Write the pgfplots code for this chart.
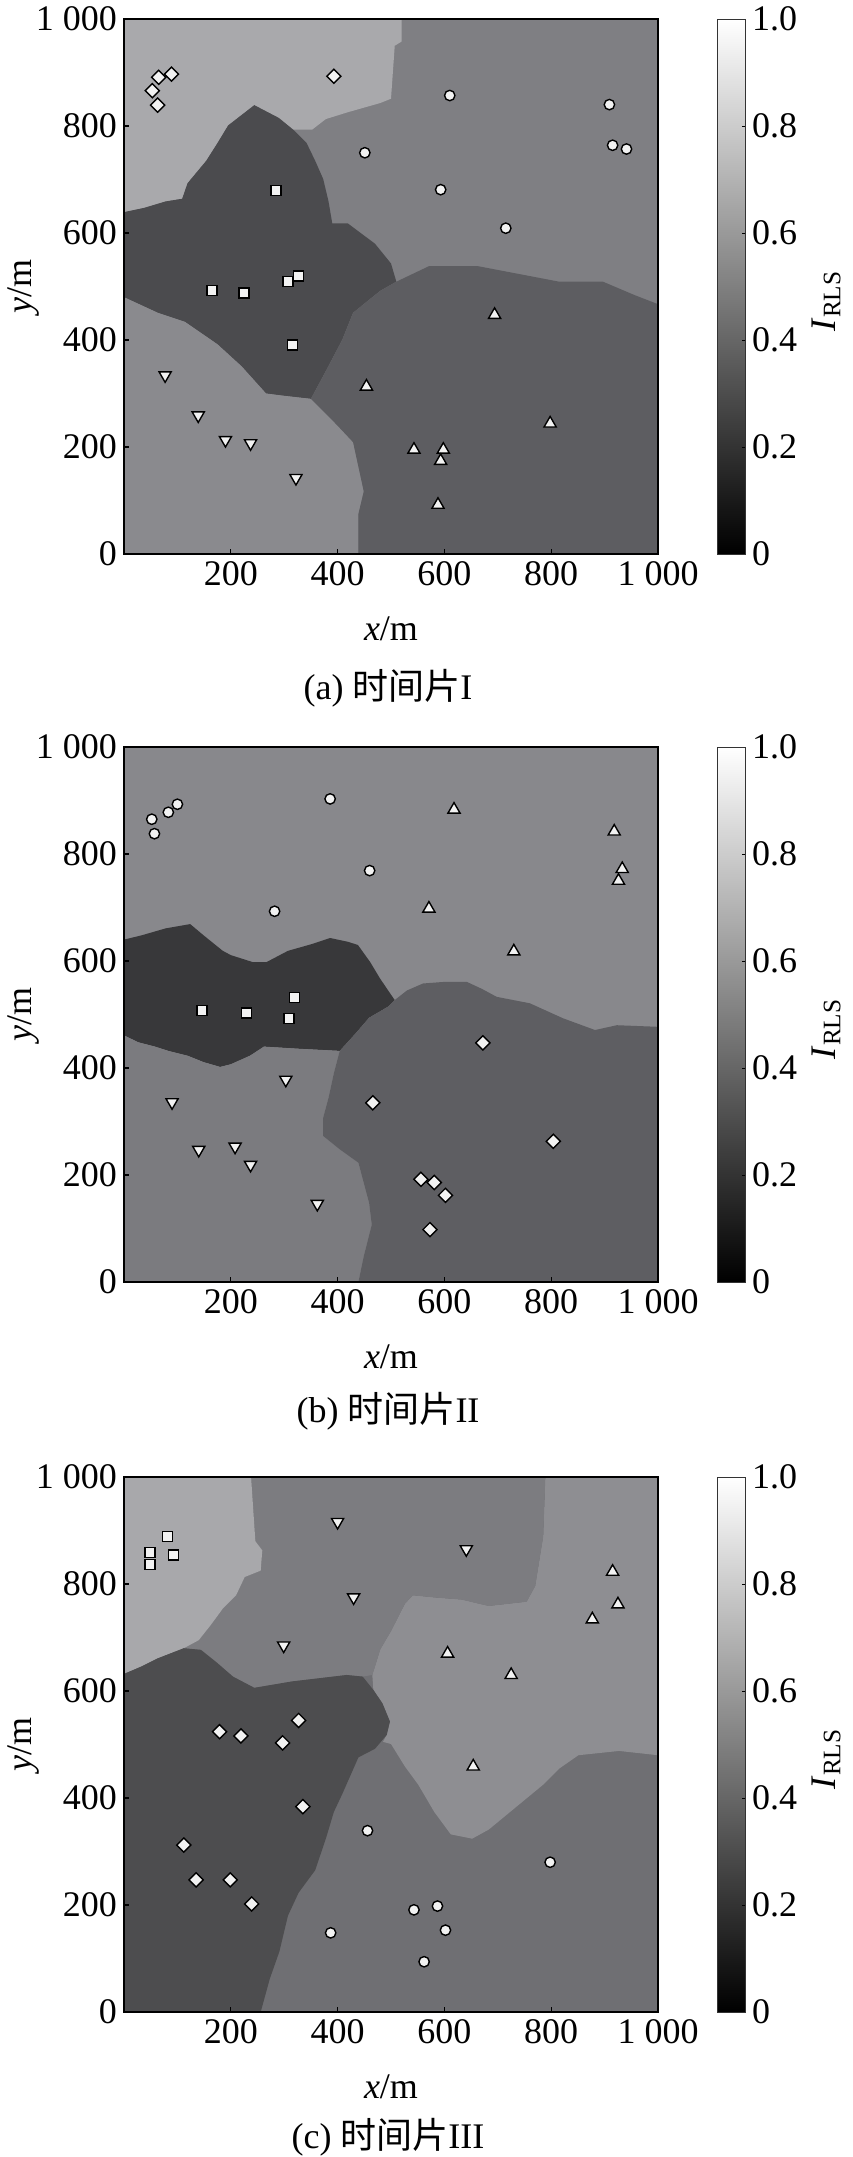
\documentclass[border=0pt]{standalone}
\usepackage{fontspec}
\setmainfont{Liberation Serif}
\newfontfamily\cjk{Noto Sans CJK SC}
\usepackage{pgfplots}
\pgfplotsset{compat=1.18}

\definecolor{aD}{HTML}{A9A9AC}
\definecolor{aC}{HTML}{7F7F83}
\definecolor{aS}{HTML}{4B4B4E}
\definecolor{aV}{HTML}{8A8A8E}
\definecolor{aT}{HTML}{5D5D61}
\definecolor{bTop}{HTML}{88888C}
\definecolor{bS}{HTML}{38383A}
\definecolor{bV}{HTML}{7B7B7F}
\definecolor{bR}{HTML}{5E5E62}
\definecolor{cS}{HTML}{A8A8AB}
\definecolor{cV}{HTML}{7C7C80}
\definecolor{cU}{HTML}{8E8E92}
\definecolor{cD}{HTML}{4D4D4F}
\definecolor{cC}{HTML}{6F6F73}
\definecolor{mfill}{HTML}{F2F2F2}

\pgfplotsset{
 panel/.style={
  scale only axis, width=267pt, height=267.5pt, anchor=south west,
  xmin=0,xmax=1000,ymin=0,ymax=1000,
  font=\fontsize{18}{21}\selectfont,
  /pgf/number format/assume math mode=true,
  xtick={200,400,600,800,1000}, xticklabels={200,400,600,800,1\hspace{0.25em}000},
  ytick={0,200,400,600,800,1000}, yticklabels={0,200,400,600,800,1\hspace{0.25em}000},
  tick align=inside, tick pos=left, major tick length=2.5pt,
  every tick/.style={black, line width=0.6pt},
  axis line style={black, line width=0.6pt},
  axis on top,
  xlabel={\textit{x}/m}, ylabel={\textit{y}/m},
  xlabel style={at={(axis description cs:0.5,-0.14)}, anchor=center},
  ylabel style={at={(axis description cs:-0.189,0.5)}, anchor=center},
  colorbar, colormap/blackwhite, point meta min=0, point meta max=1,
  colorbar style={
    at={(parent axis.north east)}, anchor=north west, xshift=21pt,
    width=14pt,
    font=\fontsize{18}{21}\selectfont,
    /pgf/number format/assume math mode=true,
    ytick={0,0.2,0.4,0.6,0.8,1}, yticklabels={0,0.2,0.4,0.6,0.8,1.0},
    yticklabel pos=right, ytick pos=right, tick align=inside,
    major tick length=1.5pt,
    every tick/.style={black, line width=0.4pt},
    axis line style={black!80, line width=0.5pt},
  },
 },
 reg/.style={fill=#1, draw=none, forget plot},
 mcirc/.style={only marks, mark=*, mark size=2.6pt, mark options={fill=mfill, draw=black, line width=0.7pt}},
 msq/.style={only marks, mark=square*, mark size=2.5pt, mark options={fill=mfill, draw=black, line width=0.7pt}},
 mdia/.style={only marks, mark=square*, mark size=2.5pt, mark options={rotate=45, fill=mfill, draw=black, line width=0.7pt}},
 mup/.style={only marks, mark=triangle*, mark size=3.5pt, mark options={fill=mfill, draw=black, line width=0.7pt}},
 mdn/.style={only marks, mark=triangle*, mark size=3.5pt, mark options={rotate=180, fill=mfill, draw=black, line width=0.7pt}},
 topline/.style={draw=black!70, line width=1.1pt},
}
\newcommand\cblabel[1]{\node[rotate=90, inner sep=0pt, font=\fontsize{18}{21}\selectfont] at (413pt,#1) {\textit{I}\textsubscript{RLS}};}

\begin{document}
\begin{tikzpicture}
\path[use as bounding box] (0pt,0pt) rectangle (426pt,-1078.5pt);

% ---------------- (a)
\begin{axis}[panel, at={(62pt,-277pt)}]
\addplot[reg=aC] coordinates {(0,0)(1000,0)(1000,1000)(0,1000)} -- cycle;
\addplot[reg=aD] coordinates {(0,1000)(520,1000)(520,958)(507,950)(500,851)(480,843)(420,826)(378,813)(352,793)(317,793)(290,815)(244,839)(195,801)(175,768)(154,735)(119,693)(109,664)(78,659)(38,647)(0,639)} -- cycle;
\addplot[reg=aS] coordinates {(0,639)(38,647)(78,659)(109,664)(119,693)(154,735)(175,768)(195,801)(244,839)(290,815)(317,793)(342,768)(358,735)(373,701)(383,659)(390,618)(419,618)(470,580)(500,543)(510,509)(480,492)(429,451)(409,401)(378,342)(350,290)(297,296)(266,300)(220,351)(175,392)(114,434)(63,451)(0,480)} -- cycle;
\addplot[reg=aV] coordinates {(0,480)(63,451)(114,434)(175,392)(220,351)(266,300)(297,296)(350,290)(398,242)(429,209)(449,117)(439,75)(439,0)(0,0)} -- cycle;
\addplot[reg=aT] coordinates {(439,0)(1000,0)(1000,467)(956,484)(897,509)(815,509)(663,538)(571,538)(510,509)(480,492)(429,451)(409,401)(378,342)(350,290)(398,242)(429,209)(449,117)(439,75)} -- cycle;
\addplot[topline, forget plot] coordinates {(0,1000)(1000,1000)};
\addplot[mdia] coordinates {(53,866)(65,891)(89,897)(63,839)(393,893)};
\addplot[mcirc] coordinates {(610,857)(451,750)(593,681)(715,609)(909,840)(915,764)(941,757)};
\addplot[msq] coordinates {(285,680)(165,492)(225,488)(307,509)(327,520)(315,391)};
\addplot[mdn] coordinates {(77,334)(139,259)(190,213)(237,207)(322,142)};
\addplot[mup] coordinates {(694,447)(454,313)(543,195)(598,195)(593,174)(588,92)(798,244)};
\end{axis}
\cblabel{-150.5pt}
\node[font=\fontsize{18}{21}\selectfont] at (194pt,-344pt) {(a) {\cjk 时间片}I};

% ---------------- (b)
\begin{axis}[panel, at={(62pt,-641pt)}]
\addplot[reg=bTop] coordinates {(0,0)(1000,0)(1000,1000)(0,1000)} -- cycle;
\addplot[reg=bS] coordinates {(0,640)(33,648)(78,661)(124,669)(149,648)(185,619)(200,611)(241,598)(267,598)(307,619)(353,632)(386,643)(419,636)(438,630)(461,598)(479,568)(498,540)(507,527)(495,515)(459,494)(434,465)(404,432)(327,436)(262,440)(236,423)(200,407)(180,402)(149,411)(119,423)(83,432)(58,440)(27,448)(0,461)} -- cycle;
\addplot[reg=bV] coordinates {(0,461)(27,448)(58,440)(83,432)(119,423)(149,411)(180,402)(200,407)(236,423)(262,440)(327,436)(404,432)(393,390)(383,344)(373,307)(373,273)(404,248)(439,223)(459,148)(464,107)(449,48)(439,0)(0,0)} -- cycle;
\addplot[reg=bR] coordinates {(439,0)(1000,0)(1000,477)(923,480)(882,471)(822,493)(760,521)(698,533)(670,548)(642,561)(600,561)(560,558)(530,545)(507,527)(495,515)(459,494)(434,465)(404,432)(393,390)(383,344)(373,307)(373,273)(404,248)(439,223)(459,148)(464,107)(449,48)} -- cycle;
\addplot[topline, forget plot] coordinates {(0,1000)(1000,1000)};
\addplot[mcirc] coordinates {(52,865)(57,838)(83,878)(100,893)(386,903)(460,769)(282,693)};
\addplot[mup] coordinates {(618,883)(918,842)(933,772)(926,750)(571,698)(730,618)};
\addplot[msq] coordinates {(146,507)(229,503)(319,532)(309,493)};
\addplot[mdn] coordinates {(90,336)(303,378)(140,247)(208,253)(237,219)(362,146)};
\addplot[mdia] coordinates {(672,447)(466,335)(804,263)(556,192)(581,186)(602,162)(573,98)};
\end{axis}
\cblabel{-514.5pt}
\node[font=\fontsize{18}{21}\selectfont] at (194pt,-705.5pt) {(b) {\cjk 时间片}II};

% ---------------- (c)
\begin{axis}[panel, at={(62pt,-1006pt)}]
\addplot[reg=cC] coordinates {(0,0)(1000,0)(1000,1000)(0,1000)} -- cycle;
\addplot[reg=cU] coordinates {(465,630)(480,678)(500,712)(526,763)(541,779)(581,775)(632,771)(683,759)(754,767)(770,796)(785,889)(789,1000)(1000,1000)(1000,480)(927,488)(851,480)(815,455)(785,425)(734,383)(683,341)(652,324)(612,332)(581,374)(551,425)(526,459)(500,501)(485,505)(492,518)(498,543)(484,577)(467,602)} -- cycle;
\addplot[reg=cV] coordinates {(238,1000)(789,1000)(785,889)(770,796)(754,767)(683,759)(632,771)(581,775)(541,779)(526,763)(500,712)(480,678)(465,630)(447,627)(417,630)(315,618)(244,606)(204,627)(174,653)(144,677)(112,680)(140,695)(163,724)(185,754)(210,779)(226,813)(256,825)(259,863)(246,880)} -- cycle;
\addplot[reg=cS] coordinates {(0,1000)(238,1000)(246,880)(259,863)(256,825)(226,813)(210,779)(185,754)(163,724)(140,695)(112,680)(63,661)(33,646)(0,632)} -- cycle;
\addplot[reg=cD] coordinates {(0,632)(33,646)(63,661)(112,680)(144,677)(174,653)(204,627)(244,606)(315,618)(417,630)(447,627)(467,602)(484,577)(498,543)(492,518)(470,492)(439,476)(424,442)(409,408)(393,374)(378,324)(358,265)(327,223)(307,180)(291,113)(273,62)(256,0)(0,0)} -- cycle;
\addplot[topline, forget plot] coordinates {(0,1000)(1000,1000)};
\addplot[msq] coordinates {(81,889)(49,859)(49,836)(93,854)};
\addplot[mdn] coordinates {(400,916)(641,865)(430,775)(299,685)};
\addplot[mup] coordinates {(915,823)(925,762)(877,734)(606,670)(725,630)(654,459)};
\addplot[mdia] coordinates {(179,524)(219,516)(327,545)(297,503)(335,384)(112,312)(135,247)(199,247)(239,202)};
\addplot[mcirc] coordinates {(456,339)(798,280)(543,191)(587,198)(602,153)(387,148)(562,94)};
\end{axis}
\cblabel{-879.5pt}
\node[font=\fontsize{18}{21}\selectfont] at (194pt,-1068.5pt) {(c) {\cjk 时间片}III};
\end{tikzpicture}
\end{document}
